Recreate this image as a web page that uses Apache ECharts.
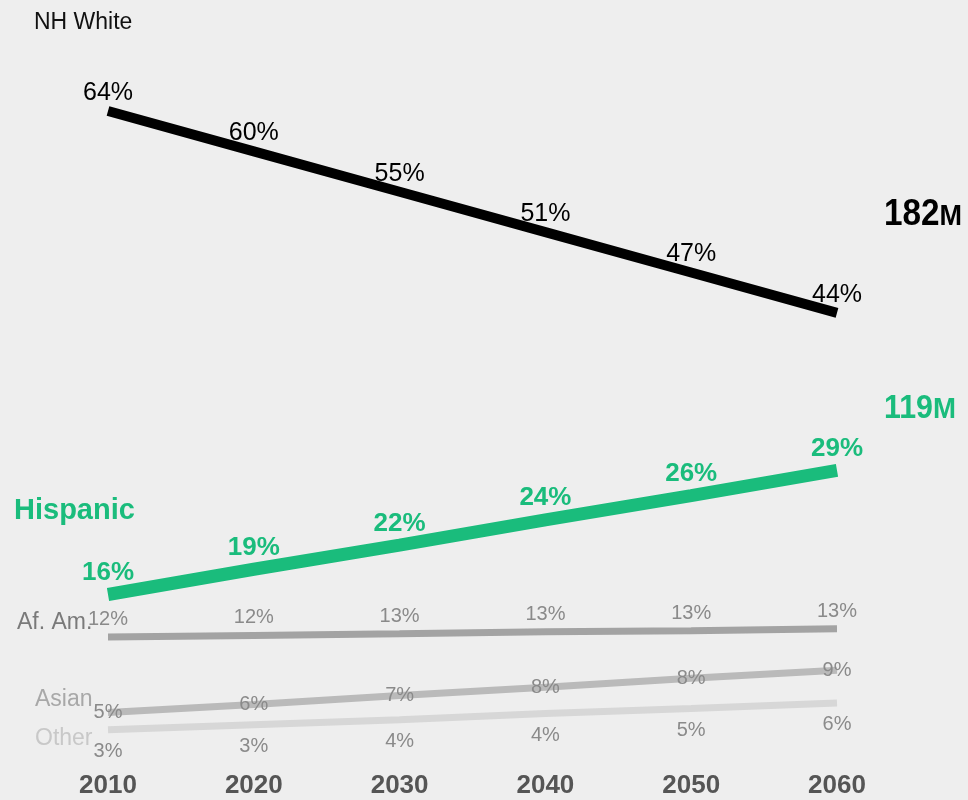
<!DOCTYPE html>
<html><head><meta charset="utf-8">
<script src="https://cdn.jsdelivr.net/npm/echarts@6/dist/echarts.min.js"></script>
<style>html,body{margin:0;padding:0;background:#eeeeee}#c{width:968px;height:800px}</style>
</head><body><div id="c"></div>
<script>
const years = ['2010','2020','2030','2040','2050','2060'];
// line positions (share of population, %) as drawn
const whiteVals    = [64.0, 60.0, 56.0, 52.0, 48.0, 44.0];
const hispanicVals = [16.1, 18.6, 21.0, 23.5, 25.9, 28.4];
const afAmVals     = [11.9, 12.05, 12.2, 12.4, 12.5, 12.7];
const asianVals    = [4.4, 5.2, 6.1, 6.9, 7.8, 8.6];
const otherVals    = [2.7, 3.2, 3.7, 4.3, 4.8, 5.35];
// printed labels
const whiteLabels    = ['64%','60%','55%','51%','47%','44%'];
const hispanicLabels = ['16%','19%','22%','24%','26%','29%'];
const afAmLabels     = ['12%','12%','13%','13%','13%','13%'];
const asianLabels    = ['5%','6%','7%','8%','8%','9%'];
const otherLabels    = ['3%','3%','4%','4%','5%','6%'];
const seriesNames = ['NH White','Hispanic','Af. Am.','Asian','Other'];
const totals = [['182','M'],['119','M']];

const FONT = '"Liberation Sans", Arial, Helvetica, sans-serif';
const chart = echarts.init(document.getElementById('c'), null, {renderer:'canvas'});

function mk(name, data, labels, color, width, lab) {
  return {
    name, type:'line', data,
    symbol:'circle', symbolSize:1, showSymbol:true,
    itemStyle:{color:'rgba(0,0,0,0)', borderWidth:0},
    lineStyle:{color, width, cap:'butt'},
    silent:true,
    label:Object.assign({show:true, fontFamily:FONT, formatter:p=>labels[p.dataIndex]}, lab),
    emphasis:{disabled:true}
  };
}

chart.setOption({
  backgroundColor:'#eeeeee',
  animation:false,
  grid:{left:108, right:131, top:0, bottom:43, containLabel:false},
  xAxis:{type:'category', data:years, boundaryGap:false,
    axisLine:{show:false}, axisTick:{show:false}, splitLine:{show:false},
    axisLabel:{color:'#555', fontSize:26, fontWeight:'bold', fontFamily:FONT, margin:16}},
  yAxis:{type:'value', min:0, max:75, show:false},
  series:[
    mk(seriesNames[4], otherVals, otherLabels, '#d7d7d7', 7, {position:'bottom', distance:11, color:'#8a8a8a', fontSize:20}),
    mk(seriesNames[3], asianVals, asianLabels, '#bababa', 7, {position:'inside', color:'#8a8a8a', fontSize:20}),
    mk(seriesNames[2], afAmVals, afAmLabels, '#a3a3a3', 7, {position:'top', distance:7, color:'#8a8a8a', fontSize:20}),
    mk(seriesNames[1], hispanicVals, hispanicLabels, '#1abc7c', 13, {position:'top', distance:8, color:'#1abc7c', fontSize:26, fontWeight:'bold'}),
    mk(seriesNames[0], whiteVals, whiteLabels, '#000000', 10, {position:'top', distance:5, color:'#000', fontSize:25})
  ],
  graphic:[
    {type:'text', left:34, top:11, style:{text:seriesNames[0], fill:'#111', font:'23px '+FONT}},
    {type:'text', left:14, top:496, style:{text:seriesNames[1], fill:'#1abc7c', font:'bold 29px '+FONT}},
    {type:'text', left:17, top:611, style:{text:seriesNames[2], fill:'#7a7a7a', font:'23px '+FONT}},
    {type:'text', left:35, top:688, style:{text:seriesNames[3], fill:'#a8a8a8', font:'23px '+FONT}},
    {type:'text', left:35, top:727, style:{text:seriesNames[4], fill:'#c8c8c8', font:'23px '+FONT}},
    {type:'text', x:884, y:196, scaleX:0.9, style:{text:'{a|'+totals[0][0]+'}{b|'+totals[0][1]+'}', fill:'#000',
      rich:{a:{fontSize:37, fontWeight:'bold', fontFamily:FONT, fill:'#000'}, b:{fontSize:30, fontWeight:'bold', fontFamily:FONT, fill:'#000', padding:[4,0,0,0]}}}},
    {type:'text', x:884, y:392, scaleX:0.92, style:{text:'{a|'+totals[1][0]+'}{b|'+totals[1][1]+'}', fill:'#1abc7c',
      rich:{a:{fontSize:33, fontWeight:'bold', fontFamily:FONT, fill:'#1abc7c'}, b:{fontSize:30, fontWeight:'bold', fontFamily:FONT, fill:'#1abc7c', padding:[2,0,0,0]}}}}
  ]
});
</script></body></html>
